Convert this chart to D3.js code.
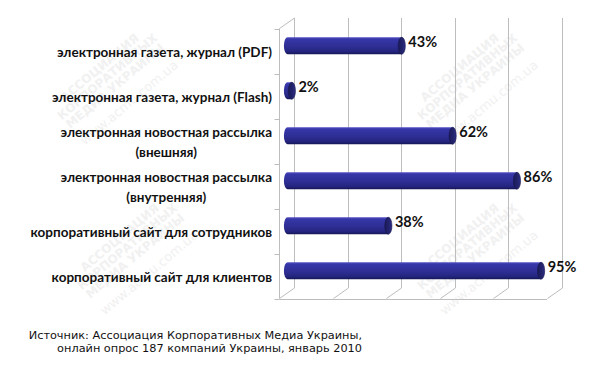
<!DOCTYPE html>
<html><head><meta charset="utf-8">
<script src="https://cdn.jsdelivr.net/npm/d3@7"></script>
<style>body{margin:0;background:#fff}svg{display:block}</style>
</head><body>
<svg id="c" width="600" height="374"></svg>
<script>
const categories = [
  ["электронная газета, журнал (PDF)"],
  ["электронная газета, журнал (Flash)"],
  ["электронная новостная рассылка", "(внешняя)"],
  ["электронная новостная рассылка", "(внутренняя)"],
  ["корпоративный сайт для сотрудников"],
  ["корпоративный сайт для клиентов"]
];
const values = [43, 2, 62, 86, 38, 95];
const gridTicks = [0, 20, 40, 60, 80, 100];
const sourceLines = [
  "Источник: Ассоциация Корпоративных Медиа Украины,",
  "онлайн опрос 187 компаний Украины, январь 2010"
];
const watermarkLines = ["АССОЦИАЦИЯ", "КОРПОРАТИВНЫХ", "МЕДИА УКРАИНЫ"];
const watermarkUrl = "www.acmu.com.ua";

const svg = d3.select("#c");
const depth = {dx: -15, dy: 10.5};
const back = {top: 18, bottom: 288};
const x = d3.scaleLinear().domain([0, 100]).range([294, 562]);
const y = d3.scaleBand().domain(d3.range(categories.length)).range([back.top, back.bottom]).padding(0);

// faint watermark
const wm = svg.append("g").attr("fill", "#f1f1f1").attr("font-family", "DejaVu Sans").attr("font-weight", "bold");
[[110, 80], [470, 80], [130, 250], [470, 250]].forEach(([cx, cy]) => {
  const g = wm.append("g").attr("transform", `translate(${cx},${cy}) rotate(-40)`);
  watermarkLines.forEach((t, k) => g.append("text").attr("text-anchor", "middle").attr("font-size", 12).attr("y", -12 + k * 12).text(t));
  g.append("text").attr("text-anchor", "middle").attr("font-size", 13).attr("y", 34).attr("font-weight", "normal").text(watermarkUrl);
});

// grid walls
const grid = svg.append("g").attr("stroke", "#bdbdbd").attr("stroke-width", 1).attr("fill", "none");
gridTicks.forEach(t => {
  const gx = Math.round(x(t)) + 0.5;
  grid.append("line").attr("x1", gx).attr("x2", gx).attr("y1", back.top).attr("y2", back.bottom);
  grid.append("line").attr("x1", gx).attr("x2", gx + depth.dx).attr("y1", back.bottom).attr("y2", back.bottom + depth.dy);
});
const fx0 = Math.round(x(0) + depth.dx) + 0.5;
grid.append("line").attr("x1", fx0).attr("x2", Math.round(x(0)) + 0.5).attr("y1", back.top + depth.dy).attr("y2", back.top);
grid.append("line").attr("x1", fx0).attr("x2", fx0).attr("y1", back.top + depth.dy).attr("y2", back.bottom + depth.dy);
grid.append("line").attr("x1", fx0).attr("x2", x(100) + depth.dx).attr("y1", Math.round(back.bottom + depth.dy) + 0.5).attr("y2", Math.round(back.bottom + depth.dy) + 0.5);
d3.range(categories.length + 1).forEach(i => {
  const ty = Math.round(back.top + i * y.bandwidth() + depth.dy) + 0.5;
  grid.append("line").attr("x1", fx0 - 5).attr("x2", fx0).attr("y1", ty).attr("y2", ty);
});

// gradients
const defs = svg.append("defs");
const lg = defs.append("linearGradient").attr("id", "barg").attr("x1", 0).attr("x2", 0).attr("y1", 0).attr("y2", 1);
[[0, "#5252c4"], [0.12, "#3636a8"], [0.55, "#2e2e94"], [0.85, "#24247e"], [1, "#161654"]].forEach(([o, c]) =>
  lg.append("stop").attr("offset", o).attr("stop-color", c));
const cg = defs.append("linearGradient").attr("id", "capg").attr("x1", 0).attr("x2", 1).attr("y1", 0).attr("y2", 0);
[[0, "#1a1a58"], [0.6, "#24246e"], [1, "#2e2e86"]].forEach(([o, c]) =>
  cg.append("stop").attr("offset", o).attr("stop-color", c));

// bars (mid depth plane)
const mid = {dx: depth.dx / 2, dy: depth.dy / 2};
const barH = 17, rx = 3.6, ry = barH / 2;
const bars = svg.append("g");
values.forEach((v, i) => {
  const cy = y(i) + y.bandwidth() / 2 + mid.dy;
  const x0 = x(0) + mid.dx + 1;
  const x1 = Math.max(x(v) + mid.dx, x0 + 0.5);
  const t = cy - ry, b = cy + ry;
  bars.append("path")
    .attr("d", `M${x0},${t} L${x1},${t} L${x1},${b} L${x0},${b} A${rx},${ry} 0 0 1 ${x0},${t} Z`)
    .attr("fill", "url(#barg)");
  bars.append("ellipse").attr("cx", x1).attr("cy", cy).attr("rx", rx).attr("ry", ry)
    .attr("fill", "url(#capg)").attr("stroke", "#16164e").attr("stroke-width", 0.6);
  bars.append("text")
    .attr("x", x1 + rx + 3).attr("y", cy - 3.5).attr("dy", "0.35em")
    .attr("font-family", "Lato").attr("font-weight", "bold").attr("font-size", 14.5).attr("fill", "#111")
    .text(v + "%");
});

// category labels
const labels = svg.append("g").attr("font-family", "Lato").attr("font-weight", "bold").attr("font-size", 13.5).attr("fill", "#111");
categories.forEach((lines, i) => {
  const cy = y(i) + y.bandwidth() / 2 + depth.dy + 1.5;
  const lh = 20;
  let firstW = 0;
  lines.forEach((ln, j) => {
    const tEl = labels.append("text")
      .attr("y", cy + (j - (lines.length - 1) / 2) * lh).attr("dy", "0.35em")
      .text(ln);
    if (j === 0) {
      tEl.attr("x", 272).attr("text-anchor", "end");
      firstW = tEl.node().getComputedTextLength();
    } else {
      tEl.attr("x", 272 - firstW / 2).attr("text-anchor", "middle");
    }
  });
});

// source
const src = svg.append("g").attr("font-family", "DejaVu Sans").attr("font-size", 11.3).attr("fill", "#111").attr("text-anchor", "end");
sourceLines.forEach((s, i) => src.append("text").attr("x", 362).attr("y", 339 + i * 12.5).text(s));
</script>
</body></html>
